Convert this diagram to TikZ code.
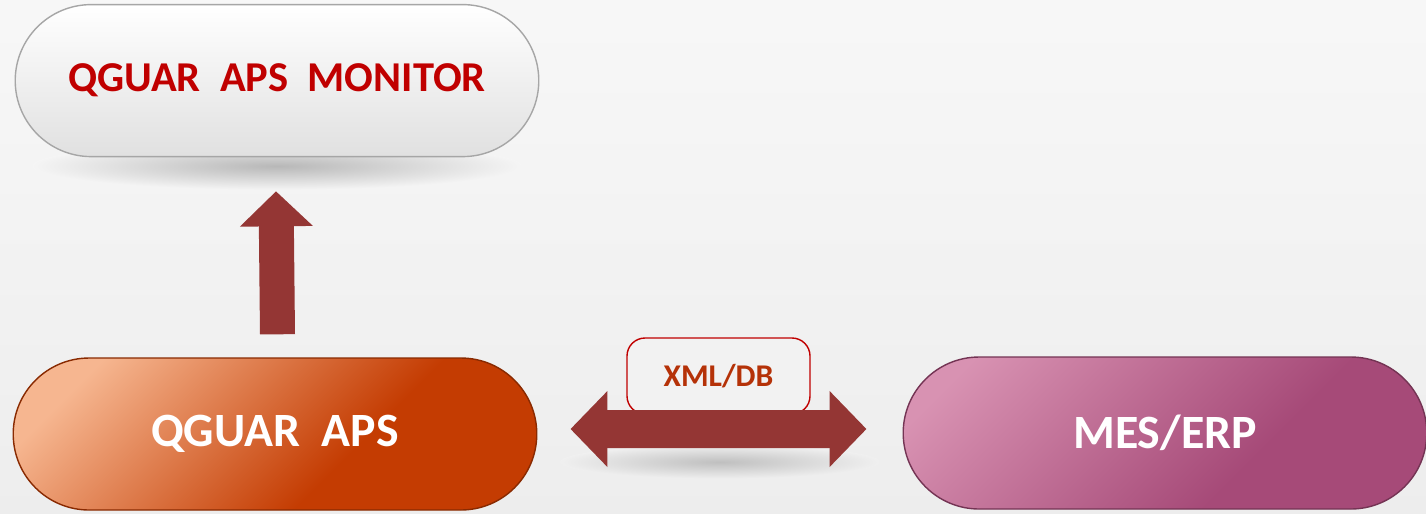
\documentclass[tikz,border=0pt]{standalone}
\usepackage{fontspec}
\setmainfont{Carlito}
\usepackage{tikz}
\usetikzlibrary{arrows.meta,positioning,calc,shapes.misc}
\definecolor{arrowred}{HTML}{943634}
\definecolor{monred}{HTML}{C00000}
\definecolor{tabtext}{HTML}{B53208}
\definecolor{apslight}{HTML}{F6B690}
\definecolor{apsdark}{HTML}{C43C02}
\definecolor{meslight}{HTML}{D892B2}
\definecolor{mesdark}{HTML}{A64A78}
\pgfdeclareverticalshading{apsshade}{100bp}{color(0bp)=(apsdark);
  color(40bp)=(apsdark); color(76bp)=(apslight); color(100bp)=(apslight)}
\pgfdeclareverticalshading{messhade}{100bp}{color(0bp)=(mesdark);
  color(38bp)=(mesdark); color(78bp)=(meslight); color(100bp)=(meslight)}
\tikzset{>=Triangle,
         pill/.style={rounded rectangle, minimum width=5.47cm,
           minimum height=1.52cm, text=white,
           font=\bfseries\fontsize{13.6}{16}\selectfont},
         blockarrow/.style={draw=arrowred, line width=#1},
         tabbox/.style={draw=monred, fill=gray!10, rounded corners=0.18cm,
           minimum width=1.83cm, minimum height=0.76cm, text=tabtext,
           font=\bfseries\fontsize{9}{11}\selectfont}}

\begin{document}
\begin{tikzpicture}
  % background
  \shade[top color=white!97!black, bottom color=white!93!black]
    (0,0) rectangle (14.26,-5.13);
  \useasboundingbox (0,0) rectangle (14.26,-5.13);
  % soft shadows
  \shade[inner color=black!28, outer color=white!96!black]
    (2.77,-1.66) ellipse (2.45cm and 0.24cm);
  \shade[inner color=black!25, outer color=white!94!black]
    (7.2,-4.62) ellipse (1.6cm and 0.17cm);
  % the three systems
  \node[pill, draw=apsdark!70!black, shading=apsshade,
        shading angle=45] (aps) at (2.75,-4.34) {QGUAR~~APS};
  \node[pill, draw=gray!70, top color=white, bottom color=white!88!black,
        text=monred, font=\bfseries\fontsize{12.1}{15}\selectfont,
        above=2cm of aps, xshift=0.02cm] (mon) {QGUAR~~APS~~MONITOR};
  \node[pill, draw=mesdark!70!black, shading=messhade,
        shading angle=45, right=3.65cm of aps, yshift=0.01cm] (mes)
        {MES/ERP};
  % data exchange label
  \node[tabbox] (xml) at (7.185,-3.76) {XML/DB};
  % arrows
  \draw[blockarrow=0.35cm, -{Triangle[width=0.71cm,length=0.35cm]}]
    ([xshift=0.025cm,yshift=0.23cm]aps.north)
    -- ([xshift=-0.01cm,yshift=-0.34cm]mon.south);
  \draw[blockarrow=0.38cm, {Triangle[width=0.74cm,length=0.37cm]}-%
    {Triangle[width=0.74cm,length=0.37cm]}]
    ([shift={(0.33cm,0.05cm)}]aps.east)
    -- ([shift={(-0.36cm,0.04cm)}]mes.west);
\end{tikzpicture}
\end{document}
